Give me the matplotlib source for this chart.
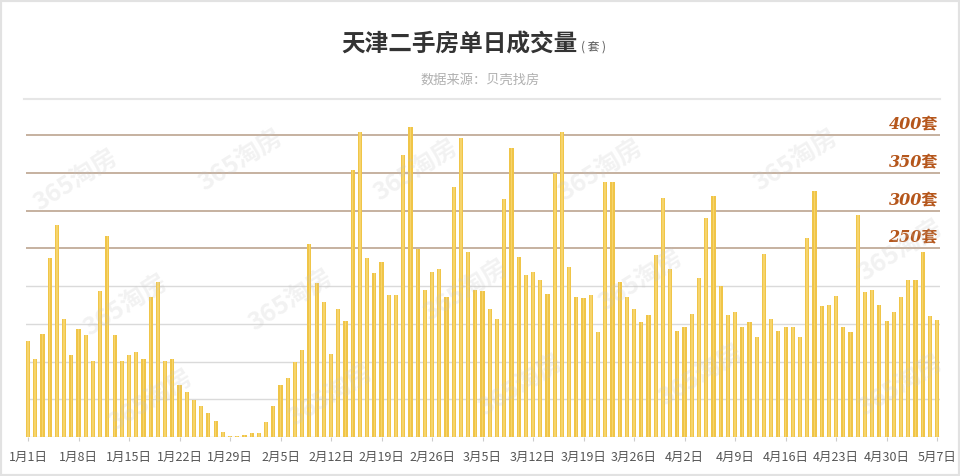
import matplotlib
matplotlib.use('Agg')
import matplotlib.pyplot as plt
from matplotlib.patches import Rectangle
import numpy as np

plt.rcParams['font.family'] = ['Noto Sans CJK SC', 'DejaVu Sans']

# 每日成交量（套），1月1日 - 5月7日
jan = [127, 103, 137, 237, 281, 156, 109, 143, 135, 101,
       194, 266, 135, 101, 108, 112, 103, 185, 205, 101,
       104, 69, 59, 49, 41, 32, 21, 7, 1, 1, 2]
feb = [5, 5, 20, 41, 69, 78, 100, 115, 256, 204,
       179, 110, 169, 154, 354, 404, 237, 217, 232, 188,
       188, 374, 411, 249, 195, 219, 223, 186]
mar = [331, 396, 245, 195, 194, 169, 157, 315, 383, 239,
       214, 219, 208, 190, 350, 404, 225, 186, 184, 188,
       139, 338, 338, 205, 186, 170, 153, 161, 241, 316, 222]
apr = [140, 146, 163, 211, 290, 319, 200, 161, 165, 146,
       153, 133, 242, 157, 140, 146, 146, 133, 263, 326,
       174, 175, 187, 146, 139, 294, 192, 195, 175, 154]
may = [166, 186, 208, 208, 245, 160, 155]
values = jan + feb + mar + apr + may

month_len = [31, 28, 31, 30, 7]
dates = []
for m, n in enumerate(month_len, start=1):
    for d in range(1, n + 1):
        dates.append(f'{m}月{d}日')

grid_levels = [50, 100, 150, 200, 250, 300, 350, 400]
label_levels = [250, 300, 350, 400]

x = np.arange(len(values))

fig = plt.figure(figsize=(9.6, 4.76), dpi=100)
ax = fig.add_axes([26/960, 39/476, 914/960, 317/476])

for lv in grid_levels:
    if lv in label_levels:
        ax.axhline(lv, color='#c2ab98', lw=1.3, zorder=1)
    else:
        ax.axhline(lv, color='#dadada', lw=1.0, zorder=1)
ax.axhline(0, color='#d6d6d6', lw=1.0, zorder=1)

ax.bar(x, values, width=0.58, color='#F0C548', zorder=2)
ax.bar(x, values, width=0.22, color='#F6D46C', zorder=3)

for lv in label_levels:
    ax.text(126.1, lv + 2, f'{lv}套', ha='right', va='bottom',
            family=['DejaVu Serif', 'Noto Sans CJK SC'], weight='bold',
            style='italic', fontsize=11.5, color='#b5561b', zorder=5)

ax.set_xlim(-0.28, 126.4)
ax.set_ylim(0, 420)
ax.set_xticks(x[::7])
ax.set_xticklabels(dates[::7], fontsize=9, color='#555555')
ax.tick_params(axis='x', length=3, color='#cccccc', pad=7)
ax.set_yticks([])
for s in ax.spines.values():
    s.set_visible(False)

# 水印
marks = [(75, 180), (240, 160), (415, 170), (600, 170), (795, 160),
         (125, 305), (290, 300), (465, 290), (640, 280), (900, 250),
         (150, 400), (330, 395), (520, 385), (700, 375), (900, 385)]
for mx, my in marks:
    fig.text(mx/960, 1 - my/476, '365淘房', fontsize=18, weight='bold',
             color='#c4c4c4', alpha=0.22, rotation=32, ha='center',
             va='center', zorder=10)

fig.text(578/960, 1 - 45/476, '天津二手房单日成交量', ha='right', va='center',
         fontsize=17, weight='bold', color='#333333')
fig.text(581/960, 1 - 47/476, '( 套 )', ha='left', va='center',
         fontsize=8.5, color='#555555')
fig.text(0.5, 1 - 80/476, '数据来源：贝壳找房', ha='center', va='center',
         fontsize=9.5, color='#b0b0b0')
fig.add_artist(plt.Line2D([24/960, 940/960], [1 - 99/476, 1 - 99/476],
                          color='#e6e6e6', lw=1.5, transform=fig.transFigure))
fig.patches.append(Rectangle((0, 0), 1, 1, transform=fig.transFigure,
                             fill=False, edgecolor='#e2e2e2', lw=3))

fig.savefig('out.png', dpi=100, facecolor='white')
